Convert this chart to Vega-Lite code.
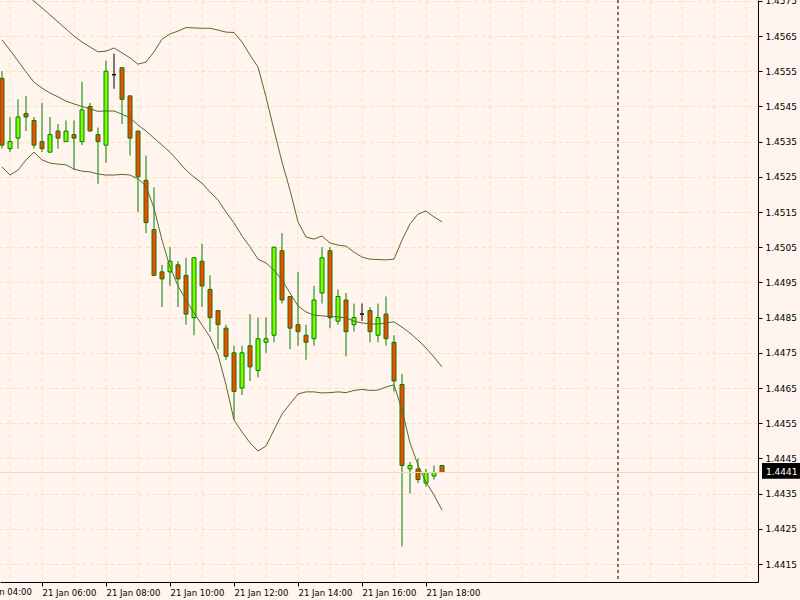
{
  "$schema": "https://vega.github.io/schema/vega-lite/v6.json",
  "width": 758,
  "height": 582,
  "autosize": {"type": "none"},
  "padding": {"left": 0, "top": 0, "right": 42, "bottom": 18},
  "background": "#FFF5EE",
  "config": {
    "view": {"stroke": null},
    "axis": {
      "labelFont": "DejaVu Sans",
      "labelFontSize": 9,
      "labelColor": "#000000",
      "domainColor": "#000000",
      "tickColor": "#000000",
      "gridColor": "#FFDDB8",
      "gridDash": [4, 3],
      "gridWidth": 1,
      "title": null
    }
  },
  "datasets": {
    "hours": [
      {"g": "2008-01-21T04:00"}, {"g": "2008-01-21T05:00"}, {"g": "2008-01-21T06:00"}, {"g": "2008-01-21T07:00"},
      {"g": "2008-01-21T08:00"}, {"g": "2008-01-21T09:00"}, {"g": "2008-01-21T10:00"}, {"g": "2008-01-21T11:00"},
      {"g": "2008-01-21T12:00"}, {"g": "2008-01-21T13:00"}, {"g": "2008-01-21T14:00"}, {"g": "2008-01-21T15:00"},
      {"g": "2008-01-21T16:00"}, {"g": "2008-01-21T17:00"}, {"g": "2008-01-21T18:00"}, {"g": "2008-01-21T19:00"},
      {"g": "2008-01-21T20:00"}, {"g": "2008-01-21T21:00"}, {"g": "2008-01-21T22:00"}, {"g": "2008-01-21T23:00"},
      {"g": "2008-01-22T00:00"}, {"g": "2008-01-22T01:00"}, {"g": "2008-01-22T02:00"}, {"g": "2008-01-22T03:00"},
      {"g": "2008-01-22T04:00"}
    ],
    "bars": [
      {"t": "2008-01-21T04:45", "o": 1.4553, "h": 1.4555, "l": 1.4533, "c": 1.4534, "u": 1.45832, "m": 1.45639, "d": 1.45278},
      {"t": "2008-01-21T05:00", "o": 1.4533, "h": 1.4542, "l": 1.4532, "c": 1.4535, "u": 1.45809, "m": 1.45610, "d": 1.45255},
      {"t": "2008-01-21T05:15", "o": 1.4536, "h": 1.4547, "l": 1.4533, "c": 1.4542, "u": 1.45789, "m": 1.45579, "d": 1.45269},
      {"t": "2008-01-21T05:30", "o": 1.4543, "h": 1.4548, "l": 1.4538, "c": 1.4542, "u": 1.45769, "m": 1.45548, "d": 1.45298},
      {"t": "2008-01-21T05:45", "o": 1.4541, "h": 1.4542, "l": 1.4533, "c": 1.4534, "u": 1.45749, "m": 1.45519, "d": 1.45320},
      {"t": "2008-01-21T06:00", "o": 1.4535, "h": 1.4546, "l": 1.4532, "c": 1.4533, "u": 1.45730, "m": 1.45502, "d": 1.45298},
      {"t": "2008-01-21T06:15", "o": 1.4532, "h": 1.4542, "l": 1.4532, "c": 1.4537, "u": 1.45710, "m": 1.45488, "d": 1.45289},
      {"t": "2008-01-21T06:30", "o": 1.4538, "h": 1.4540, "l": 1.4533, "c": 1.4536, "u": 1.45690, "m": 1.45477, "d": 1.45286},
      {"t": "2008-01-21T06:45", "o": 1.4535, "h": 1.4541, "l": 1.4535, "c": 1.4538, "u": 1.45670, "m": 1.45465, "d": 1.45284},
      {"t": "2008-01-21T07:00", "o": 1.4537, "h": 1.4541, "l": 1.4527, "c": 1.4536, "u": 1.45650, "m": 1.45457, "d": 1.45272},
      {"t": "2008-01-21T07:15", "o": 1.4535, "h": 1.4552, "l": 1.4534, "c": 1.4544, "u": 1.45633, "m": 1.45450, "d": 1.45266},
      {"t": "2008-01-21T07:30", "o": 1.4545, "h": 1.4546, "l": 1.4538, "c": 1.4538, "u": 1.45619, "m": 1.45443, "d": 1.45264},
      {"t": "2008-01-21T07:45", "o": 1.4537, "h": 1.4539, "l": 1.4523, "c": 1.4535, "u": 1.45605, "m": 1.45436, "d": 1.45258},
      {"t": "2008-01-21T08:00", "o": 1.4534, "h": 1.4558, "l": 1.4529, "c": 1.4555, "u": 1.45607, "m": 1.45437, "d": 1.45255},
      {"t": "2008-01-21T08:15", "o": 1.4554, "h": 1.4560, "l": 1.4550, "c": 1.4554, "u": 1.45616, "m": 1.45437, "d": 1.45255},
      {"t": "2008-01-21T08:30", "o": 1.4556, "h": 1.4556, "l": 1.4540, "c": 1.4547, "u": 1.45602, "m": 1.45428, "d": 1.45257},
      {"t": "2008-01-21T08:45", "o": 1.4548, "h": 1.4548, "l": 1.4531, "c": 1.4536, "u": 1.45588, "m": 1.45417, "d": 1.45255},
      {"t": "2008-01-21T09:00", "o": 1.4538, "h": 1.4538, "l": 1.4515, "c": 1.4525, "u": 1.45570, "m": 1.45397, "d": 1.45244},
      {"t": "2008-01-21T09:15", "o": 1.4524, "h": 1.4531, "l": 1.4509, "c": 1.4512, "u": 1.45576, "m": 1.45380, "d": 1.45224},
      {"t": "2008-01-21T09:30", "o": 1.4510, "h": 1.4522, "l": 1.4497, "c": 1.4497, "u": 1.45605, "m": 1.45360, "d": 1.45161},
      {"t": "2008-01-21T09:45", "o": 1.4498, "h": 1.4500, "l": 1.4488, "c": 1.4496, "u": 1.45641, "m": 1.45340, "d": 1.45070},
      {"t": "2008-01-21T10:00", "o": 1.4498, "h": 1.4505, "l": 1.4494, "c": 1.4501, "u": 1.45656, "m": 1.45320, "d": 1.44994},
      {"t": "2008-01-21T10:15", "o": 1.4500, "h": 1.4501, "l": 1.4488, "c": 1.4496, "u": 1.45664, "m": 1.45295, "d": 1.44940},
      {"t": "2008-01-21T10:30", "o": 1.4497, "h": 1.4502, "l": 1.4483, "c": 1.4486, "u": 1.45674, "m": 1.45269, "d": 1.44900},
      {"t": "2008-01-21T10:45", "o": 1.4485, "h": 1.4502, "l": 1.4480, "c": 1.4502, "u": 1.45673, "m": 1.45249, "d": 1.44863},
      {"t": "2008-01-21T11:00", "o": 1.4501, "h": 1.4506, "l": 1.4488, "c": 1.4494, "u": 1.45672, "m": 1.45232, "d": 1.44829},
      {"t": "2008-01-21T11:15", "o": 1.4493, "h": 1.4497, "l": 1.4481, "c": 1.4485, "u": 1.45672, "m": 1.45207, "d": 1.44795},
      {"t": "2008-01-21T11:30", "o": 1.4487, "h": 1.4487, "l": 1.4476, "c": 1.4483, "u": 1.45667, "m": 1.45184, "d": 1.44744},
      {"t": "2008-01-21T11:45", "o": 1.4482, "h": 1.4483, "l": 1.4473, "c": 1.4474, "u": 1.45661, "m": 1.45150, "d": 1.44659},
      {"t": "2008-01-21T12:00", "o": 1.4475, "h": 1.4477, "l": 1.4456, "c": 1.4464, "u": 1.45660, "m": 1.45119, "d": 1.44559},
      {"t": "2008-01-21T12:15", "o": 1.4465, "h": 1.4477, "l": 1.4463, "c": 1.4475, "u": 1.45633, "m": 1.45082, "d": 1.44525},
      {"t": "2008-01-21T12:30", "o": 1.4477, "h": 1.4486, "l": 1.4467, "c": 1.4471, "u": 1.45596, "m": 1.45051, "d": 1.44494},
      {"t": "2008-01-21T12:45", "o": 1.4470, "h": 1.4485, "l": 1.4468, "c": 1.4479, "u": 1.45562, "m": 1.45016, "d": 1.44471},
      {"t": "2008-01-21T13:00", "o": 1.4478, "h": 1.4485, "l": 1.4475, "c": 1.4479, "u": 1.45477, "m": 1.45005, "d": 1.44485},
      {"t": "2008-01-21T13:15", "o": 1.4480, "h": 1.4505, "l": 1.4478, "c": 1.4505, "u": 1.45383, "m": 1.44985, "d": 1.44531},
      {"t": "2008-01-21T13:30", "o": 1.4504, "h": 1.4509, "l": 1.4489, "c": 1.4490, "u": 1.45292, "m": 1.44957, "d": 1.44576},
      {"t": "2008-01-21T13:45", "o": 1.4491, "h": 1.4491, "l": 1.4476, "c": 1.4482, "u": 1.45212, "m": 1.44920, "d": 1.44605},
      {"t": "2008-01-21T14:00", "o": 1.4483, "h": 1.4498, "l": 1.4477, "c": 1.4481, "u": 1.45122, "m": 1.44883, "d": 1.44633},
      {"t": "2008-01-21T14:15", "o": 1.4480, "h": 1.4483, "l": 1.4473, "c": 1.4478, "u": 1.45079, "m": 1.44866, "d": 1.44639},
      {"t": "2008-01-21T14:30", "o": 1.4479, "h": 1.4494, "l": 1.4477, "c": 1.4490, "u": 1.45073, "m": 1.44857, "d": 1.44639},
      {"t": "2008-01-21T14:45", "o": 1.4492, "h": 1.4505, "l": 1.4489, "c": 1.4502, "u": 1.45082, "m": 1.44855, "d": 1.44636},
      {"t": "2008-01-21T15:00", "o": 1.4504, "h": 1.4505, "l": 1.4482, "c": 1.4485, "u": 1.45062, "m": 1.44853, "d": 1.44637},
      {"t": "2008-01-21T15:15", "o": 1.4484, "h": 1.4493, "l": 1.4483, "c": 1.4491, "u": 1.45056, "m": 1.44852, "d": 1.44639},
      {"t": "2008-01-21T15:30", "o": 1.4490, "h": 1.4492, "l": 1.4474, "c": 1.4481, "u": 1.45053, "m": 1.44849, "d": 1.44637},
      {"t": "2008-01-21T15:45", "o": 1.4483, "h": 1.4489, "l": 1.4481, "c": 1.4485, "u": 1.45036, "m": 1.44840, "d": 1.44643},
      {"t": "2008-01-21T16:00", "o": 1.4486, "h": 1.4489, "l": 1.4484, "c": 1.4486, "u": 1.45022, "m": 1.44835, "d": 1.44646},
      {"t": "2008-01-21T16:15", "o": 1.4487, "h": 1.4488, "l": 1.4478, "c": 1.4481, "u": 1.45016, "m": 1.44832, "d": 1.44643},
      {"t": "2008-01-21T16:30", "o": 1.4480, "h": 1.4489, "l": 1.4478, "c": 1.4485, "u": 1.45015, "m": 1.44832, "d": 1.44644},
      {"t": "2008-01-21T16:45", "o": 1.4486, "h": 1.4491, "l": 1.4477, "c": 1.4479, "u": 1.45014, "m": 1.44835, "d": 1.44653},
      {"t": "2008-01-21T17:00", "o": 1.4478, "h": 1.4480, "l": 1.4464, "c": 1.4467, "u": 1.45016, "m": 1.44838, "d": 1.44659},
      {"t": "2008-01-21T17:15", "o": 1.4466, "h": 1.4469, "l": 1.4420, "c": 1.4443, "u": 1.45070, "m": 1.44823, "d": 1.44588},
      {"t": "2008-01-21T17:30", "o": 1.4442, "h": 1.4444, "l": 1.4435, "c": 1.4443, "u": 1.45116, "m": 1.44806, "d": 1.44494},
      {"t": "2008-01-21T17:45", "o": 1.4442, "h": 1.4445, "l": 1.4438, "c": 1.4439, "u": 1.45144, "m": 1.44786, "d": 1.44431},
      {"t": "2008-01-21T18:00", "o": 1.4438, "h": 1.4442, "l": 1.4437, "c": 1.4441, "u": 1.45153, "m": 1.44764, "d": 1.44383},
      {"t": "2008-01-21T18:15", "o": 1.4440, "h": 1.4443, "l": 1.4439, "c": 1.4441, "u": 1.45136, "m": 1.44738, "d": 1.44346},
      {"t": "2008-01-21T18:30", "o": 1.4443, "h": 1.4443, "l": 1.4441, "c": 1.4441, "u": 1.45122, "m": 1.44710, "d": 1.44303}
    ]
  },
  "data": {"name": "bars"},
  "layer": [
    {
      "data": {"name": "hours"},
      "mark": {"type": "rule", "color": "#FFDDB8", "strokeWidth": 1, "strokeDash": [4, 3], "clip": true},
      "encoding": {
        "x": {"field": "g", "type": "temporal"}
      }
    },
    {
      "mark": {"type": "rule", "strokeWidth": 1, "clip": true},
      "encoding": {
        "x": {
          "field": "t",
          "type": "temporal",
          "scale": {
            "nice": false,
            "padding": 0,
            "domain": [
              {"year": 2008, "month": 1, "date": 21, "hours": 4, "minutes": 41, "seconds": 15},
              {"year": 2008, "month": 1, "date": 22, "hours": 4, "minutes": 22, "seconds": 30}
            ]
          },
          "axis": {
            "orient": "bottom",
            "values": [
              {"year": 2008, "month": 1, "date": 21, "hours": 6},
              {"year": 2008, "month": 1, "date": 21, "hours": 8},
              {"year": 2008, "month": 1, "date": 21, "hours": 10},
              {"year": 2008, "month": 1, "date": 21, "hours": 12},
              {"year": 2008, "month": 1, "date": 21, "hours": 14},
              {"year": 2008, "month": 1, "date": 21, "hours": 16},
              {"year": 2008, "month": 1, "date": 21, "hours": 18}
            ],
            "tickCount": 40,
            "format": "%d %b %H:%M",
            "formatType": "time",
            "labelFontSize": 8.5,
            "labelAlign": "left",
            "labelBaseline": "top",
            "labelPadding": 2,
            "labelOverlap": false,
            "labelBound": false,
            "labelFlush": false,
            "tickSize": 4,
            "grid": false
          }
        },
        "y": {
          "field": "l",
          "type": "quantitative",
          "scale": {"domain": [1.440989, 1.457523], "zero": false, "nice": false, "padding": 0},
          "axis": {
            "orient": "right",
            "values": [1.4415, 1.4425, 1.4435, 1.4445, 1.4455, 1.4465, 1.4475, 1.4485, 1.4495, 1.4505, 1.4515, 1.4525, 1.4535, 1.4545, 1.4555, 1.4565, 1.4575],
            "tickCount": 40,
            "format": ".4f",
            "tickSize": 4,
            "labelPadding": 3,
            "labelAlign": "left",
            "labelOverlap": false,
            "labelBound": false,
            "labelFlush": false,
            "grid": true
          }
        },
        "y2": {"field": "h"},
        "color": {"condition": {"test": "datum.o == datum.c", "value": "#000000"}, "value": "#008000"}
      }
    },
    {
      "mark": {"type": "bar", "size": 4, "strokeWidth": 1, "clip": true},
      "encoding": {
        "x": {"field": "t", "type": "temporal"},
        "y": {"field": "o", "type": "quantitative"},
        "y2": {"field": "c"},
        "fill": {"condition": {"test": "datum.c > datum.o", "value": "#7CFC00"}, "value": "#FF4500"},
        "stroke": {"condition": {"test": "datum.o == datum.c", "value": "#000000"}, "value": "#008000"}
      }
    },
    {
      "mark": {"type": "line", "color": "#556B2F", "strokeWidth": 1, "clip": true},
      "encoding": {
        "x": {"field": "t", "type": "temporal"},
        "y": {"field": "u", "type": "quantitative"}
      }
    },
    {
      "mark": {"type": "line", "color": "#556B2F", "strokeWidth": 1, "clip": true},
      "encoding": {
        "x": {"field": "t", "type": "temporal"},
        "y": {"field": "m", "type": "quantitative"}
      }
    },
    {
      "mark": {"type": "line", "color": "#556B2F", "strokeWidth": 1, "clip": true},
      "encoding": {
        "x": {"field": "t", "type": "temporal"},
        "y": {"field": "d", "type": "quantitative"}
      }
    },
    {
      "data": {"values": [{"bid": 1.4441}]},
      "mark": {"type": "rule", "color": "#F2D6B3", "strokeWidth": 1},
      "encoding": {
        "y": {"field": "bid", "type": "quantitative"}
      }
    },
    {
      "data": {"values": [{"sep": "2008-01-22T00:00"}]},
      "mark": {"type": "rule", "color": "#000000", "strokeWidth": 1, "strokeDash": [3, 3]},
      "encoding": {
        "x": {"field": "sep", "type": "temporal"}
      }
    },
    {
      "data": {"values": [{"bid": 1.4441}]},
      "mark": {"type": "rect", "color": "#000000", "clip": false},
      "encoding": {
        "x": {"datum": {"year": 2008, "month": 1, "date": 22, "hours": 4, "minutes": 30}, "type": "temporal"},
        "x2": {"datum": {"year": 2008, "month": 1, "date": 22, "hours": 5, "minutes": 41, "seconds": 15}},
        "y": {"datum": 1.44437, "type": "quantitative"},
        "y2": {"datum": 1.44392}
      }
    },
    {
      "data": {"values": [{"bid": 1.4441}]},
      "mark": {"type": "text", "color": "#FFFFFF", "font": "DejaVu Sans", "fontSize": 9, "align": "left", "baseline": "middle", "clip": false},
      "encoding": {
        "x": {"datum": {"year": 2008, "month": 1, "date": 22, "hours": 4, "minutes": 37, "seconds": 30}, "type": "temporal"},
        "y": {"field": "bid", "type": "quantitative"},
        "text": {"field": "bid", "type": "quantitative", "format": ".4f"}
      }
    },
    {
      "data": {"values": [{"lbl": "2008-01-21T04:00"}]},
      "mark": {"type": "text", "color": "#000000", "font": "DejaVu Sans", "fontSize": 8.5, "align": "left", "baseline": "top", "clip": false},
      "encoding": {
        "x": {"field": "lbl", "type": "temporal"},
        "y": {"datum": 1.440818, "type": "quantitative"},
        "text": {"field": "lbl", "type": "temporal", "format": "%d %b %H:%M"}
      }
    }
  ]
}
